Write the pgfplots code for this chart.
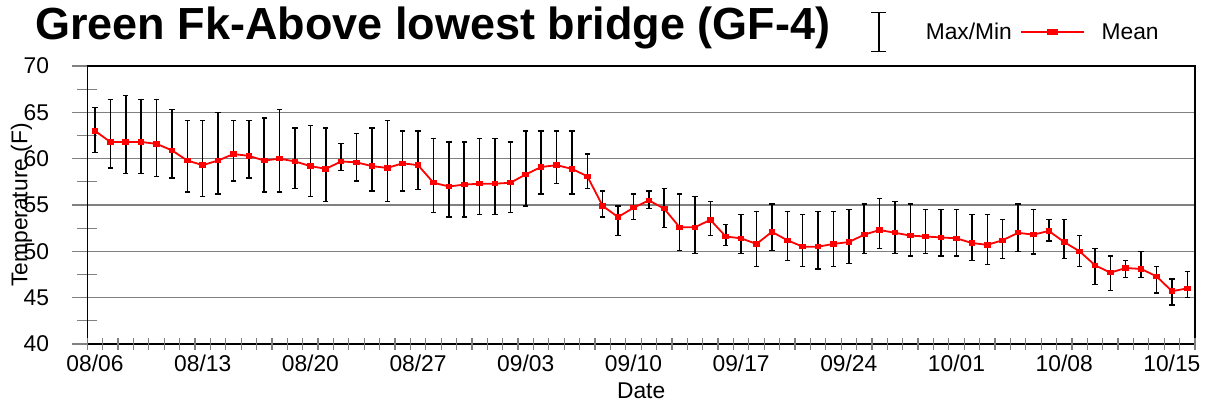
\documentclass[border=0pt]{standalone}
\usepackage{pgfplots}
\pgfplotsset{compat=1.18}
\usepackage{pgfplotstable}
\usepackage{fontspec}
\setmainfont{Liberation Sans}
\definecolor{gridgray}{RGB}{128,128,128}
\pgfplotstableread{
x mean max min
0 63.0 65.5 60.7
1 61.8 66.4 59.0
2 61.8 66.8 58.4
3 61.8 66.4 58.4
4 61.6 66.4 58.1
5 60.9 65.3 57.9
6 59.8 64.1 56.4
7 59.3 64.1 55.9
8 59.8 65.0 56.2
9 60.5 64.1 57.6
10 60.3 64.1 57.9
11 59.8 64.4 56.4
12 60.0 65.3 56.4
13 59.7 63.3 56.8
14 59.2 63.6 55.9
15 58.9 63.3 55.4
16 59.7 61.6 58.7
17 59.6 62.7 57.6
18 59.2 63.3 56.5
19 59.0 64.1 55.4
20 59.5 63.0 56.5
21 59.3 63.0 56.7
22 57.4 62.2 54.2
23 57.0 61.8 53.7
24 57.2 61.8 53.7
25 57.3 62.2 54.0
26 57.3 62.2 54.0
27 57.4 61.8 54.2
28 58.3 63.0 54.9
29 59.1 63.0 56.2
30 59.3 63.0 57.3
31 58.9 63.0 56.2
32 58.1 60.5 56.8
33 54.9 56.5 53.7
34 53.7 54.9 51.7
35 54.7 56.2 53.4
36 55.5 56.5 54.6
37 54.6 56.8 52.6
38 52.6 56.2 50.1
39 52.6 55.9 49.8
40 53.4 55.4 51.7
41 51.6 52.9 50.6
42 51.4 54.0 49.8
43 50.8 54.3 48.4
44 52.1 55.1 50.1
45 51.2 54.3 49.0
46 50.5 54.0 48.4
47 50.5 54.3 48.1
48 50.8 54.3 48.4
49 51.0 54.5 48.7
50 51.8 55.1 49.8
51 52.3 55.7 50.3
52 52.0 55.4 49.8
53 51.7 55.1 49.5
54 51.6 54.5 49.8
55 51.5 54.5 49.5
56 51.4 54.5 49.5
57 50.9 54.0 49.0
58 50.7 54.0 48.6
59 51.2 53.4 49.2
60 52.0 55.1 50.0
61 51.8 54.5 49.7
62 52.2 53.4 51.1
63 51.0 53.4 49.2
64 50.0 51.7 48.4
65 48.5 50.3 46.4
66 47.7 49.5 45.8
67 48.2 49.0 47.2
68 48.1 50.0 47.2
69 47.3 48.4 45.5
70 45.7 47.0 44.2
71 46.0 47.8 45.0
}\data

\begin{document}
\begin{tikzpicture}
\useasboundingbox (0bp,0bp) rectangle (1208bp,404bp);
\node[anchor=base west, inner sep=0pt, font=\fontsize{45bp}{54bp}\selectfont\bfseries] at (35bp,364bp) {Green Fk-Above lowest bridge (GF-4)};
\begin{axis}[
  at={(87.3bp,60bp)}, anchor=south west,
  scale only axis, width=1107.7bp, height=278bp,
  xmin=-0.5, xmax=71.5, ymin=40, ymax=70,
  axis line style={black, line width=1.3bp},
  tick align=center,
  xtick pos=bottom, ytick pos=left,
  major tick length=30bp, minor tick length=20bp,
  tick style={gridgray, line width=1.2bp},
  ytick={40,45,...,70}, minor ytick={42.5,47.5,...,67.5},
  ymajorgrids, major grid style={gridgray, line width=1.2bp},
  xtick={0,7,...,70},
  xticklabels={08/06,08/13,08/20,08/27,09/03,09/10,09/17,09/24,10/01,10/08,10/15},
  major x tick style={draw=none},
  extra x ticks={-0.5,0.5,...,71.5}, extra x tick labels={},
  extra x tick style={major tick length=12bp, major x tick style={draw=gridgray}},
  ticklabel style={font=\fontsize{22.8bp}{27bp}\selectfont},
  xticklabel style={yshift=7.5bp},
  yticklabel style={xshift=-19.7bp},
  /pgf/number format/assume math mode=true,
  xlabel={Date}, ylabel={Temperature (F)},
  label style={font=\fontsize{22.8bp}{27bp}\selectfont},
  xlabel style={at={(axis description cs:0.5,-0.169)}, anchor=center},
  ylabel style={at={(axis description cs:-0.0595,0.5)}, anchor=center},
  legend style={at={(axis description cs:0.7071,1.1223)}, anchor=west, draw=none, fill=none, inner sep=0pt,
    font=\fontsize{22.8bp}{27bp}\selectfont},
  legend columns=2,
]
\addplot[black, only marks, mark=none, forget plot,
  error bars/.cd, y dir=both, y explicit, error mark=|,
  error bar style={black, line width=1.5bp},
  error mark options={black, line width=1.3bp, mark size=2.7bp}]
  table[x=x, y=mean, y error plus expr=\thisrow{max}-\thisrow{mean}, y error minus expr=\thisrow{mean}-\thisrow{min}] {\data};
\addlegendimage{legend image code/.code={
  \draw[black, line width=1.3bp] (7.5bp,-19.5bp) -- (7.5bp,19.5bp);
  \draw[black, line width=1.3bp] (0bp,-19.5bp) -- (15bp,-19.5bp);
  \draw[black, line width=1.3bp] (0bp,19.5bp) -- (15bp,19.5bp);
  \path (52.2bp,0bp);}}
\addlegendentry{Max/Min}
\addplot[red, line width=1.8bp, mark=square*, mark size=2.4bp,
  mark options={solid, fill=red, draw=none, yscale=0.75},
  legend image code/.code={
    \path (-6.2bp,0bp) (77.7bp,0bp);
    \draw[red, line width=1.8bp] (0bp,0bp) -- (63bp,0bp);
    \fill[red] (27bp,-2.2bp) rectangle (36bp,2.2bp);}]
  table[x=x, y=mean] {\data};
\addlegendentry{Mean}
\end{axis}
\end{tikzpicture}
\end{document}
